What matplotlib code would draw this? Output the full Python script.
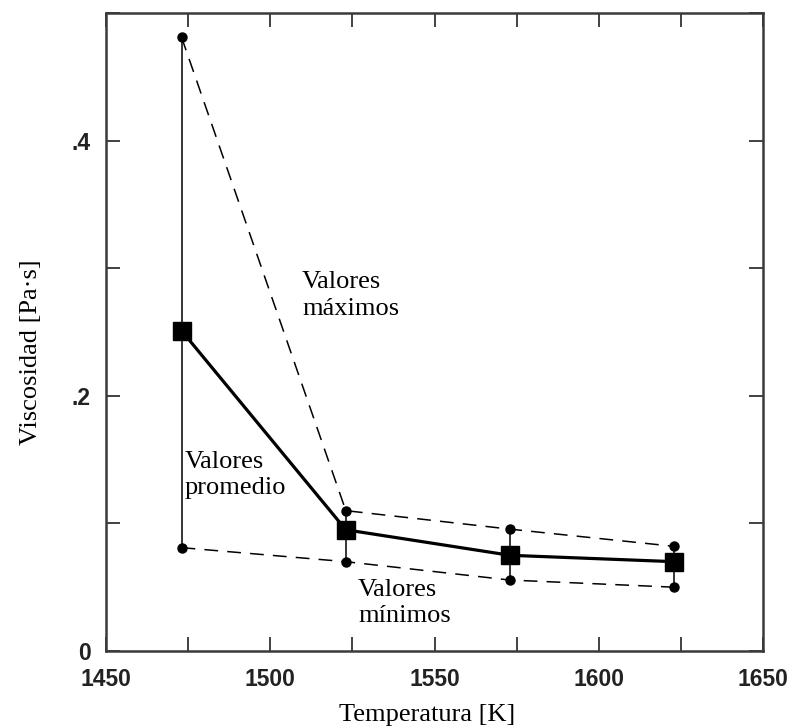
import matplotlib
matplotlib.use("Agg")
import matplotlib.pyplot as plt
from matplotlib.ticker import MultipleLocator, FuncFormatter

temps = [1473, 1523, 1573, 1623]
visc_max = [0.481, 0.110, 0.0955, 0.082]
visc_mean = [0.251, 0.095, 0.075, 0.070]
visc_min = [0.081, 0.070, 0.0556, 0.050]

x_ticks = [1450, 1500, 1550, 1600, 1650]
y_ticks = [0, 0.2, 0.4]
y_tick_labels = ["0", ".2", ".4"]

fig = plt.figure(figsize=(7.96, 7.28), dpi=100)
ax = fig.add_axes([106/796, 1-651/728, (763-106)/796, (651-13)/728])

ax.vlines(temps, visc_min, visc_max, colors="black", linewidth=1.1, zorder=1)
ax.plot(temps, visc_max, linestyle=(0, (9, 6)), color="black", linewidth=1.1,
        marker="o", markersize=6.5, zorder=2)
ax.plot(temps, visc_min, linestyle=(0, (9, 6)), color="black", linewidth=1.1,
        marker="o", markersize=6.5, zorder=2)
ax.plot(temps, visc_mean, linestyle="-", color="black", linewidth=2.3,
        marker="s", markersize=13, zorder=3)

ax.set_xlim(1450, 1650)
ax.set_ylim(0, 0.5)

ax.xaxis.set_major_locator(MultipleLocator(25))
ax.xaxis.set_major_formatter(FuncFormatter(
    lambda v, p: f"{int(round(v))}" if int(round(v)) in x_ticks else ""))
ax.yaxis.set_major_locator(MultipleLocator(0.1))
def yfmt(v, p):
    for t, l in zip(y_ticks, y_tick_labels):
        if abs(v - t) < 1e-6:
            return l
    return ""
ax.yaxis.set_major_formatter(FuncFormatter(yfmt))

ax.tick_params(direction="in", length=10, width=1.3, top=True, right=True,
               labelsize=16.5, color="#333333")
ax.tick_params(axis="x", pad=12)
ax.tick_params(axis="y", pad=11)
for lab in ax.get_xticklabels() + ax.get_yticklabels():
    lab.set_fontfamily("Liberation Sans")
    lab.set_fontweight("bold")
    lab.set_color("#222222")
for s in ax.spines.values():
    s.set_linewidth(1.8)
    s.set_color("#3a3a3a")

serif = "Liberation Serif"
ax.set_xlabel("Temperatura [K]", fontfamily=serif, fontsize=19)
ax.set_ylabel("Viscosidad [Pa·s]", fontfamily=serif, fontsize=19)
ax.xaxis.set_label_coords(0.489, -0.083)
ax.yaxis.set_label_coords(-0.098, 0.469)

ax.text(1509.7, 0.2787, "Valores\nmáximos", fontfamily=serif, fontsize=19,
        va="center", ha="left", linespacing=1.25)
ax.text(1474, 0.1378, "Valores\npromedio", fontfamily=serif, fontsize=19,
        va="center", ha="left", linespacing=1.25)
ax.text(1526.7, 0.0376, "Valores\nmínimos", fontfamily=serif, fontsize=19,
        va="center", ha="left", linespacing=1.25)

fig.savefig("out.png", dpi=100)
